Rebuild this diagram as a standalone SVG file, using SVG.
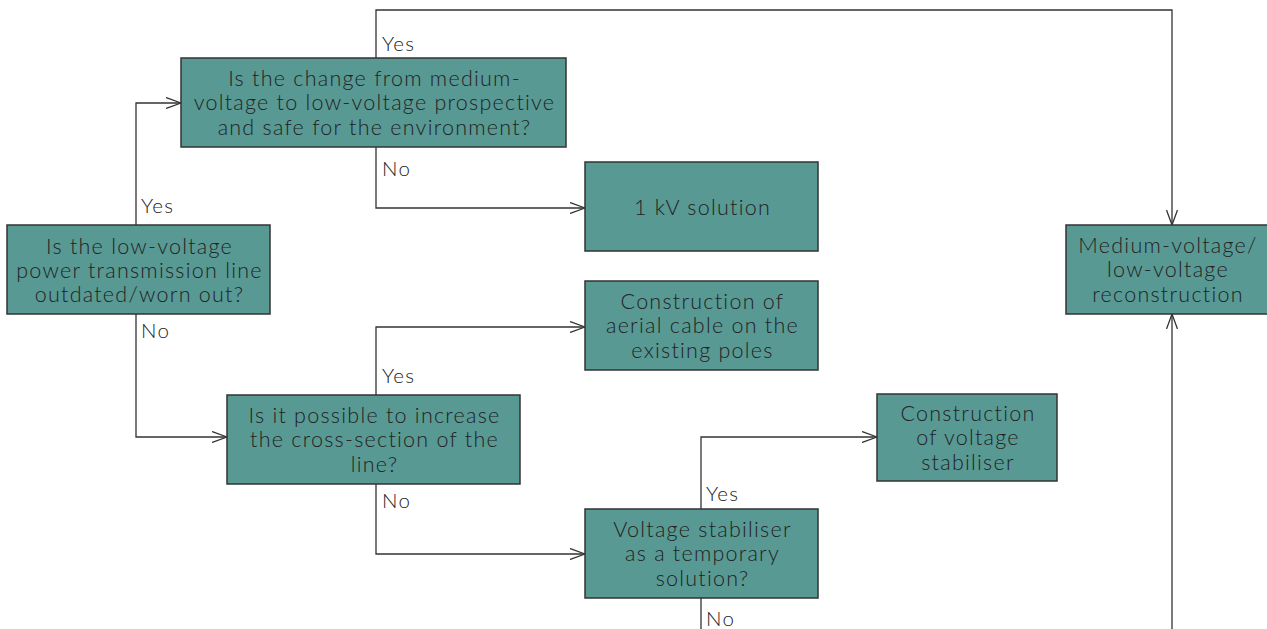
<svg xmlns="http://www.w3.org/2000/svg" width="1267" height="629" viewBox="0 0 1267 629">
<style>
.box{fill:#589994;stroke:#333;stroke-width:1.5}
.t{font-family:Lato,"Open Sans",sans-serif;font-weight:300;font-size:21.5px;letter-spacing:1.25px;fill:#222;text-anchor:middle}
.l{font-family:Lato,"Open Sans",sans-serif;font-weight:300;font-size:20.5px;letter-spacing:1.3px;fill:#222}
.c{fill:none;stroke:#333;stroke-width:1.3}
</style>
<defs>
<marker id="a" markerWidth="16" markerHeight="12" refX="15" refY="6" orient="auto" markerUnits="userSpaceOnUse">
<path d="M0,0.5 L15,6 L0,11.5" fill="none" stroke="#333" stroke-width="1.3"/>
</marker>
</defs>
<g id="connectors">
<path class="c" d="M136,225 V103 H181" marker-end="url(#a)"/>
<path class="c" d="M376,58 V10 H1172 V225" marker-end="url(#a)"/>
<path class="c" d="M376,147 V208 H585" marker-end="url(#a)"/>
<path class="c" d="M136,314 V437 H227" marker-end="url(#a)"/>
<path class="c" d="M376,395 V327 H585" marker-end="url(#a)"/>
<path class="c" d="M376,484 V554 H585" marker-end="url(#a)"/>
<path class="c" d="M701,509 V437 H877" marker-end="url(#a)"/>
<path class="c" d="M701,598 V629"/>
<path class="c" d="M1172,629 V314" marker-end="url(#a)"/>
<text class="l" x="141" y="213">Yes</text>
<text class="l" x="382" y="51">Yes</text>
<text class="l" x="382" y="176">No</text>
<text class="l" x="141" y="338">No</text>
<text class="l" x="382" y="383">Yes</text>
<text class="l" x="382" y="508">No</text>
<text class="l" x="706" y="501">Yes</text>
<text class="l" x="706" y="626">No</text>
</g>
<g id="q1">
<rect class="box" x="7" y="225" width="263" height="89"/>
<text class="t" x="139.5" y="254">Is the low-voltage</text>
<text class="t" x="139.5" y="278">power transmission line</text>
<text class="t" x="139.5" y="302">outdated/worn out?</text>
</g>
<g id="q2">
<rect class="box" x="181" y="58" width="385" height="89"/>
<text class="t" x="374.5" y="86">Is the change from medium-</text>
<text class="t" x="374.5" y="110">voltage to low-voltage prospective</text>
<text class="t" x="374.5" y="135">and safe for the environment?</text>
</g>
<g id="kv">
<rect class="box" x="585" y="162" width="233" height="89"/>
<text class="t" x="702.5" y="215">1 kV solution</text>
</g>
<g id="aerial">
<rect class="box" x="585" y="281" width="233" height="89"/>
<text class="t" x="702.5" y="309">Construction of</text>
<text class="t" x="702.5" y="333">aerial cable on the</text>
<text class="t" x="702.5" y="358">existing poles</text>
</g>
<g id="q3">
<rect class="box" x="227" y="395" width="293" height="89"/>
<text class="t" x="374.5" y="423">Is it possible to increase</text>
<text class="t" x="374.5" y="447">the cross-section of the</text>
<text class="t" x="374.5" y="472">line?</text>
</g>
<g id="q4">
<rect class="box" x="585" y="509" width="233" height="89"/>
<text class="t" x="702.5" y="537">Voltage stabiliser</text>
<text class="t" x="702.5" y="561">as a temporary</text>
<text class="t" x="702.5" y="586">solution?</text>
</g>
<g id="stab">
<rect class="box" x="877" y="394" width="180" height="87"/>
<text class="t" x="968" y="421">Construction</text>
<text class="t" x="968" y="445">of voltage</text>
<text class="t" x="968" y="470">stabiliser</text>
</g>
<g id="mvlv">
<rect class="box" x="1066" y="225" width="203" height="89"/>
<text class="t" x="1168" y="253">Medium-voltage/</text>
<text class="t" x="1168" y="277">low-voltage</text>
<text class="t" x="1168" y="302">reconstruction</text>
</g>
</svg>
